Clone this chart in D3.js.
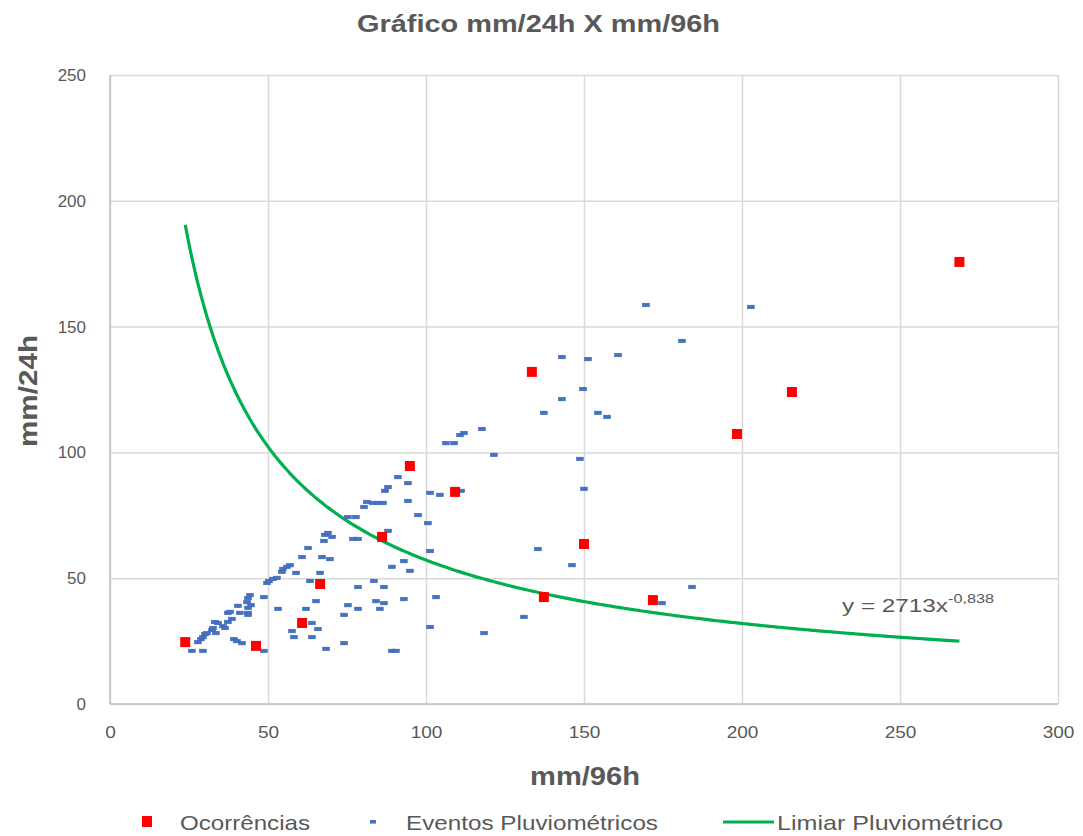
<!DOCTYPE html>
<html>
<head>
<meta charset="utf-8">
<script src="https://cdn.jsdelivr.net/npm/d3@7"></script>
<style>
  body { margin: 0; background: #fff; }
  svg text { font-family: "Liberation Sans", Arial, sans-serif; fill: #595959; }
</style>
</head>
<body>
<div id="chart"></div>
<script>
// Ocorrências (mm/96h, mm/24h)
const ocorrenciasX = [23.8, 46.2, 60.8, 66.5, 86.1, 94.9, 109.2, 133.5, 137.3, 150.0, 171.8, 198.4, 215.8, 268.8];
const ocorrenciasY = [24.6, 23.1, 32.2, 47.7, 66.4, 94.6, 84.3, 132.0, 42.5, 63.6, 41.3, 107.3, 124.0, 175.7];

// Eventos Pluviométricos (mm/96h, mm/24h)
const eventosX = [25.9, 29.4, 27.8, 28.8, 29.4, 30.1, 30.7, 32.3, 32.6, 33.5, 33.2, 34.2, 35.8, 36.4, 37.3, 38.6,
  37.3, 38.0, 40.5, 41.1, 39.2, 40.2, 41.8, 44.3, 43.7, 43.4, 44.6, 43.7, 43.7, 43.7, 48.7, 48.7,
  49.7, 50.3, 51.6, 52.8, 53.2, 54.4, 54.7, 56.0, 57.0, 58.9, 57.6, 58.2, 60.8, 62.0, 62.7, 63.3,
  63.9, 63.9, 65.2, 65.8, 66.5, 67.1, 67.7, 68.0, 69.0, 70.3, 69.6, 68.4,
  74.1, 74.1, 75.3, 75.3, 77.8, 76.9, 78.5, 78.5, 78.5, 80.4, 81.3, 83.2, 85.1, 86.4, 83.5, 84.2,
  85.4, 86.7, 86.7, 87.0, 88.0, 88.0, 89.2, 89.2, 90.5, 91.1, 93.0, 93.0, 94.3, 94.3, 94.9, 97.5,
  100.6, 101.3, 101.3, 101.3, 103.2, 104.4, 106.3, 108.9, 110.8, 112.0, 111.1, 117.7, 118.4, 121.5,
  131.0, 135.4, 137.3, 143.0, 143.0, 146.2, 148.7, 149.7, 150.0, 151.3, 154.4, 157.3, 160.8, 169.6,
  174.7, 181.0, 184.2, 202.8];
const eventosY = [21.1, 21.1, 24.6, 25.8, 26.6, 27.8, 28.2, 29.4, 30.2, 28.2, 32.6, 32.2, 31.0, 30.2, 32.6, 33.8,
  36.2, 36.6, 39.0, 36.2, 25.8, 25.0, 24.2, 43.3, 42.1, 40.5, 39.3, 38.2, 36.2, 35.4, 42.5, 21.1,
  48.1, 48.9, 49.7, 50.1, 37.8, 52.5, 53.7, 54.5, 55.2, 52.1, 29.0, 26.6, 58.4, 37.8, 62.0, 48.9,
  32.2, 26.6, 40.9, 29.8, 52.1, 58.4, 64.8, 67.2, 68.0, 66.4, 57.6, 21.9,
  35.4, 24.2, 39.3, 74.3, 74.3, 65.6, 65.6, 46.5, 37.8, 78.3, 80.3, 79.9, 79.9, 79.9, 48.9, 40.9,
  37.8, 46.5, 40.1, 84.7, 86.2, 68.8, 54.5, 21.1, 21.1, 90.2, 56.8, 41.7, 87.8, 80.7, 52.9, 75.1,
  71.9, 83.9, 60.8, 30.6, 42.5, 83.1, 103.7, 103.7, 106.9, 107.7, 84.7, 109.3, 28.2, 99.0,
  34.6, 61.6, 115.7, 137.9, 121.2, 55.2, 97.4, 125.2, 85.5, 137.1, 115.7, 114.1, 138.7, 158.6,
  40.1, 144.3, 46.5, 157.8];

// Limiar Pluviométrico: power trendline y = a * x^b
const limiarA = 2713;
const limiarB = -0.838;

const xTicks = [0, 50, 100, 150, 200, 250, 300];
const yTicks = [0, 50, 100, 150, 200, 250];

const W = 1083, H = 836;
const margin = {top: 75, right: 25, bottom: 132, left: 110};

const svg = d3.select("#chart").append("svg")
  .attr("width", W)
  .attr("height", H);

const x = d3.scaleLinear().domain([0, 300]).range([margin.left, W - margin.right]);
const y = d3.scaleLinear().domain([0, 250]).range([H - margin.bottom, margin.top]);

// gridlines + tick labels
const xAxis = svg.append("g")
  .attr("transform", `translate(0,${H - margin.bottom})`)
  .call(d3.axisBottom(x).tickValues(xTicks).tickSize(-(H - margin.top - margin.bottom)).tickPadding(22));
xAxis.select(".domain").remove();
xAxis.selectAll(".tick line").attr("stroke", "#d9d9d9").attr("stroke-width", 1.5);
xAxis.selectAll(".tick text").style("font-size", "17px").attr("fill", "#595959")
  .attr("transform", "scale(1.12,1)");

const yAxis = svg.append("g")
  .attr("transform", `translate(${margin.left},0)`)
  .call(d3.axisLeft(y).tickValues(yTicks).tickSize(-(W - margin.left - margin.right)).tickPadding(24));
yAxis.select(".domain").remove();
yAxis.selectAll(".tick line").attr("stroke", "#d9d9d9").attr("stroke-width", 1.5);
yAxis.selectAll(".tick text").style("font-size", "17px").attr("fill", "#595959");

// axis lines (left / bottom) slightly darker
svg.append("line")
  .attr("x1", x(0)).attr("x2", x(0)).attr("y1", y(0)).attr("y2", y(250))
  .attr("stroke", "#bfbfbf").attr("stroke-width", 1.5);
svg.append("line")
  .attr("x1", x(0)).attr("x2", x(300)).attr("y1", y(0)).attr("y2", y(0))
  .attr("stroke", "#bfbfbf").attr("stroke-width", 1.5);

// trendline over the range of the Ocorrências series
const lineX = d3.extent(ocorrenciasX);
const curvePts = d3.range(0, 201).map(i => {
  const xv = lineX[0] + (lineX[1] - lineX[0]) * i / 200;
  return [xv, limiarA * Math.pow(xv, limiarB)];
});
const line = d3.line().x(d => x(d[0])).y(d => y(d[1])).curve(d3.curveMonotoneX);
svg.append("path")
  .datum(curvePts)
  .attr("d", line)
  .attr("fill", "none")
  .attr("stroke", "#00b050")
  .attr("stroke-width", 3.2);

// blue dash markers
svg.append("g").selectAll("rect")
  .data(eventosX.map((v, i) => [v, eventosY[i]]))
  .join("rect")
  .attr("x", d => x(d[0]) - 3.5)
  .attr("y", d => y(d[1]) - 1.8)
  .attr("width", 7)
  .attr("height", 3.6)
  .attr("fill", "#4472c4")
  .attr("stroke", "#3a64b0")
  .attr("stroke-width", 0.5);

// red square markers
svg.append("g").selectAll("rect")
  .data(ocorrenciasX.map((v, i) => [v, ocorrenciasY[i]]))
  .join("rect")
  .attr("x", d => x(d[0]) - 5)
  .attr("y", d => y(d[1]) - 5)
  .attr("width", 10)
  .attr("height", 10)
  .attr("fill", "#ff0000");

// equation label
const eq = svg.append("text")
  .attr("x", 842)
  .attr("y", 612)
  .style("font-size", "18px");
eq.append("tspan").attr("textLength", 106).attr("lengthAdjust", "spacingAndGlyphs")
  .text("y = " + limiarA + "x");
eq.append("tspan").attr("dy", -9).style("font-size", "13px")
  .attr("textLength", 46).attr("lengthAdjust", "spacingAndGlyphs")
  .text(String(limiarB).replace(".", ","));

// title
svg.append("text")
  .attr("x", 357).attr("y", 32)
  .attr("textLength", 363).attr("lengthAdjust", "spacingAndGlyphs")
  .style("font-size", "23px").style("font-weight", "bold")
  .text("Gráfico mm/24h X mm/96h");

// axis titles
svg.append("text")
  .attr("x", 530).attr("y", 785)
  .attr("textLength", 110).attr("lengthAdjust", "spacingAndGlyphs")
  .style("font-size", "26px").style("font-weight", "bold")
  .text("mm/96h");

svg.append("text")
  .attr("transform", `translate(37,447) rotate(-90)`)
  .attr("textLength", 112).attr("lengthAdjust", "spacingAndGlyphs")
  .style("font-size", "26px").style("font-weight", "bold")
  .text("mm/24h");

// legend
const legY = 822;
const leg = svg.append("g");
leg.append("rect").attr("x", 142).attr("y", legY - 6).attr("width", 10).attr("height", 11).attr("fill", "#ff0000");
leg.append("text").attr("x", 180).attr("y", legY + 8).style("font-size", "21px")
  .attr("textLength", 130).attr("lengthAdjust", "spacingAndGlyphs").text("Ocorrências");
leg.append("rect").attr("x", 370).attr("y", legY - 2).attr("width", 6).attr("height", 3.6).attr("fill", "#4472c4");
leg.append("text").attr("x", 406).attr("y", legY + 8).style("font-size", "21px")
  .attr("textLength", 252).attr("lengthAdjust", "spacingAndGlyphs").text("Eventos Pluviométricos");
leg.append("line").attr("x1", 723).attr("x2", 774).attr("y1", legY).attr("y2", legY)
  .attr("stroke", "#00b050").attr("stroke-width", 3.2);
leg.append("text").attr("x", 777).attr("y", legY + 8).style("font-size", "21px")
  .attr("textLength", 226).attr("lengthAdjust", "spacingAndGlyphs").text("Limiar Pluviométrico");
</script>
</body>
</html>
